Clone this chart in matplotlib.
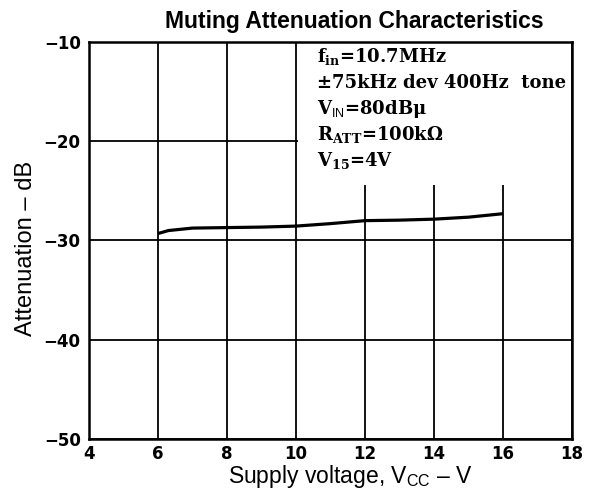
import matplotlib
matplotlib.use("Agg")
import matplotlib.pyplot as plt
from matplotlib.patches import Rectangle

plt.rcParams['mathtext.fontset'] = 'custom'
plt.rcParams['mathtext.rm'] = 'DejaVu Serif:bold'
plt.rcParams['mathtext.it'] = 'DejaVu Serif:bold'
plt.rcParams['mathtext.bf'] = 'DejaVu Serif:bold'
plt.rcParams['mathtext.sf'] = 'Liberation Sans'

vcc = [6, 6.3, 7, 8, 9, 10, 11, 12, 13, 14, 15, 16]
atten = [-29.3, -29.0, -28.75, -28.7, -28.65, -28.55, -28.3, -28.0, -27.95, -27.85, -27.65, -27.3]
xticks = [4, 6, 8, 10, 12, 14, 16, 18]
yticks = [-50, -40, -30, -20, -10]
ytick_labels = ["\u221250", "\u221240", "\u221230", "\u221220", "\u221210"]
cond_lines = [
    r"f$_{\rm in}$=10.7MHz",
    "\u00b175kHz dev 400Hz  tone",
    r"V$_{\mathsf{IN}}$=80dB" + "\u03bc",
    r"R$_{\rm ATT}$=100k" + "\u03a9",
    r"V$_{15}$=4V",
]

fig = plt.figure(figsize=(5.96, 4.9), dpi=100)
ax = fig.add_axes([0.1493, 0.1041, 0.8104, 0.8102])
ax.set_xlim(4, 18)
ax.set_ylim(-50, -10)
ax.set_xticks(xticks)
ax.set_yticks(yticks)
ax.set_xticklabels([str(t) for t in xticks], fontfamily='DejaVu Sans',
                   fontweight='bold', fontsize=12)
ax.set_yticklabels(ytick_labels, fontfamily='DejaVu Sans',
                   fontweight='bold', fontsize=12)
ax.tick_params(axis='y', length=0, pad=6)
ax.tick_params(axis='x', length=0, pad=4)
ax.grid(True, color='black', linewidth=1.3)
ax.set_axisbelow(True)
for s in ax.spines.values():
    s.set_linewidth(1.8)

# white box behind conditions text
ax.add_patch(Rectangle((10.06, -24.4), 7.9, 14.35, facecolor='white',
                       edgecolor='none', zorder=1.5))

ax.plot(vcc, atten, color='black', linewidth=2.3, zorder=3,
        solid_capstyle='butt')

ys = [-12.0, -14.65, -17.25, -19.85, -22.45]
for s, y in zip(cond_lines, ys):
    ax.text(10.6, y, s, fontfamily='DejaVu Serif', fontweight='bold',
            fontsize=13, va='baseline', ha='left', zorder=4)

ax.set_title("Muting Attenuation Characteristics", fontfamily='Liberation Sans',
             fontweight='bold', fontsize=16.5, pad=10, x=0.55)
ax.set_xlabel(r"Supply voltage, V$_{\mathsf{CC}}$ " + "\u2013 V",
              fontfamily='Liberation Sans', fontsize=16.5)
ax.xaxis.set_label_coords(0.54, -0.06)
ax.set_ylabel("Attenuation \u2013 dB", fontfamily='Liberation Sans', fontsize=17)
ax.yaxis.set_label_coords(-0.107, 0.48)

fig.savefig("out.png", dpi=100)
